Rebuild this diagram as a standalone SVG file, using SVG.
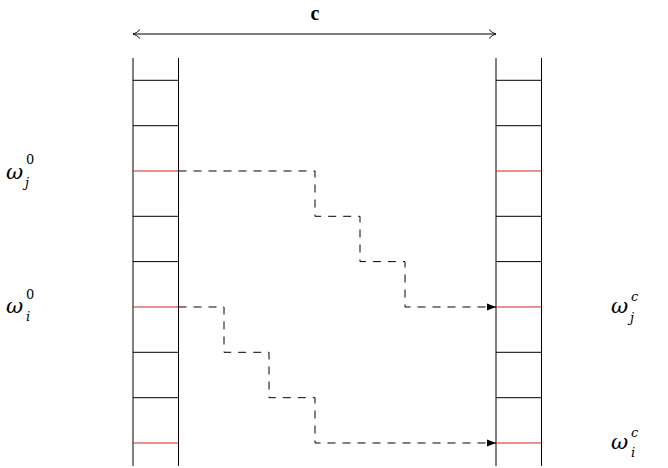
<svg xmlns="http://www.w3.org/2000/svg" width="668" height="468" viewBox="0 0 668 468">
<defs>
<marker id="ah" markerWidth="10" markerHeight="8" refX="9" refY="4" orient="auto" markerUnits="userSpaceOnUse">
<path d="M0,0.5 L9,4 L0,7.5 Z" fill="#000"/>
</marker>
<marker id="open" markerWidth="10" markerHeight="12" refX="8" refY="6" orient="auto-start-reverse" markerUnits="userSpaceOnUse">
<path d="M1,1.5 Q4,5 8,6 Q4,7 1,10.5" fill="none" stroke="#000" stroke-width="0.9"/>
</marker>
<style>
.ln{stroke:#000;stroke-width:1;fill:none}
.red{stroke:#d42020;stroke-width:1.1;fill:none}
.dash{stroke:#000;stroke-width:1;fill:none;stroke-dasharray:8 7}
.m{font-family:"DejaVu Serif",serif;font-style:italic;font-size:21px;fill:#000}
.sup{font-family:"DejaVu Serif",serif;font-size:13px;fill:#000}
.sub{font-family:"DejaVu Serif",serif;font-style:italic;font-size:13px;fill:#000}
</style>
</defs>
<g id="dimension">
<line x1="133" y1="34" x2="496" y2="34" class="ln" marker-start="url(#open)" marker-end="url(#open)"/>
<text x="315" y="20" text-anchor="middle" style="font-family:'Liberation Serif',serif;font-size:20px;font-weight:bold">c</text>
</g>
<g id="left-column">
<line x1="133" y1="58" x2="133" y2="466" class="ln"/>
<line x1="178.5" y1="58" x2="178.5" y2="466" class="ln"/>
<line x1="133" y1="80.3" x2="178.5" y2="80.3" class="ln"/>
<line x1="133" y1="125.7" x2="178.5" y2="125.7" class="ln"/>
<line x1="133" y1="171" x2="178.5" y2="171" class="red"/>
<line x1="133" y1="216.3" x2="178.5" y2="216.3" class="ln"/>
<line x1="133" y1="261.6" x2="178.5" y2="261.6" class="ln"/>
<line x1="133" y1="307" x2="178.5" y2="307" class="red"/>
<line x1="133" y1="352.3" x2="178.5" y2="352.3" class="ln"/>
<line x1="133" y1="397.7" x2="178.5" y2="397.7" class="ln"/>
<line x1="133" y1="443" x2="178.5" y2="443" class="red"/>
</g>
<g id="right-column">
<line x1="496" y1="58" x2="496" y2="466" class="ln"/>
<line x1="541.5" y1="58" x2="541.5" y2="466" class="ln"/>
<line x1="496" y1="80.3" x2="541.5" y2="80.3" class="ln"/>
<line x1="496" y1="125.7" x2="541.5" y2="125.7" class="ln"/>
<line x1="496" y1="171" x2="541.5" y2="171" class="red"/>
<line x1="496" y1="216.3" x2="541.5" y2="216.3" class="ln"/>
<line x1="496" y1="261.6" x2="541.5" y2="261.6" class="ln"/>
<line x1="496" y1="307" x2="541.5" y2="307" class="red"/>
<line x1="496" y1="352.3" x2="541.5" y2="352.3" class="ln"/>
<line x1="496" y1="397.7" x2="541.5" y2="397.7" class="ln"/>
<line x1="496" y1="443" x2="541.5" y2="443" class="red"/>
</g>
<g id="connectors">
<path d="M178.5,171 H315 V216.3 H360 V261.6 H405 V307 H496" class="dash" marker-end="url(#ah)"/>
<path d="M178.5,307 H224 V352.3 H269 V397.7 H315 V443 H496" class="dash" marker-end="url(#ah)"/>
</g>
<g id="label-wj0">
<text x="6" y="179" class="m">ω</text>
<text x="26" y="164" class="sup">0</text>
<text x="25" y="187" class="sub">j</text>
</g>
<g id="label-wi0">
<text x="6" y="313" class="m">ω</text>
<text x="26" y="299" class="sup">0</text>
<text x="26" y="321" class="sub">i</text>
</g>
<g id="label-wjc">
<text x="611" y="313" class="m">ω</text>
<text x="631" y="301" class="sub">c</text>
<text x="630" y="322" class="sub">j</text>
</g>
<g id="label-wic">
<text x="611" y="449" class="m">ω</text>
<text x="631" y="437" class="sub">c</text>
<text x="631" y="457" class="sub">i</text>
</g>
</svg>
